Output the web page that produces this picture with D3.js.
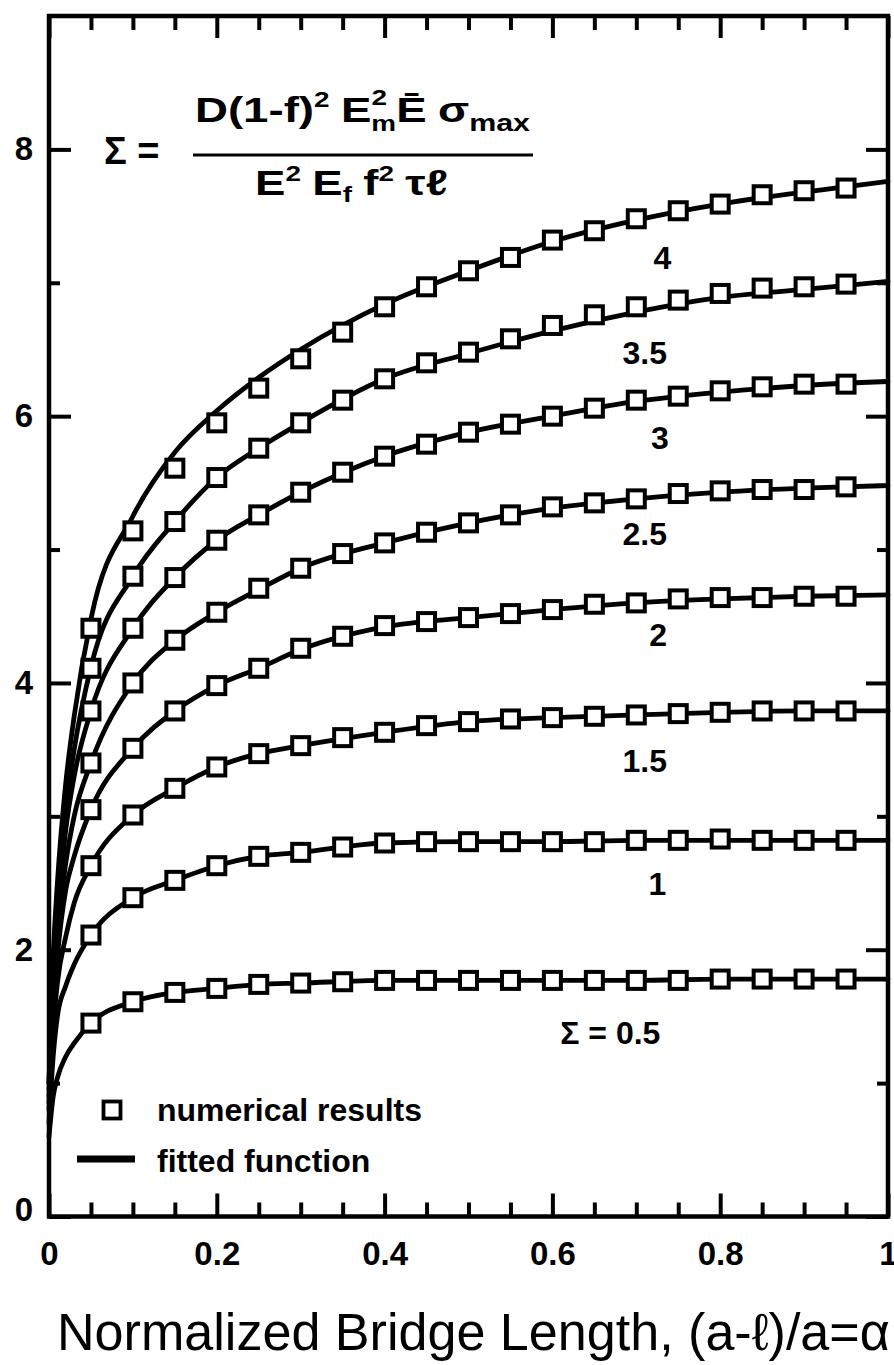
<!DOCTYPE html>
<html><head><meta charset="utf-8">
<script src="https://cdn.jsdelivr.net/npm/d3@7"></script>
<style>html,body{margin:0;padding:0;background:#fff;} svg{display:block;}</style>
</head><body>
<svg id="chart" width="894" height="1365"></svg>
<script>
// ---------------- data ----------------
const sigmaLevels = ["0.5", "1", "1.5", "2", "2.5", "3", "3.5", "4"];
const alphaNumerical = [0.05, 0.10, 0.15, 0.20, 0.25, 0.30, 0.35, 0.40, 0.45, 0.50,
                        0.55, 0.60, 0.65, 0.70, 0.75, 0.80, 0.85, 0.90, 0.95];
const num_0_5 = [1.45, 1.61, 1.68, 1.71, 1.74, 1.75, 1.76, 1.77, 1.77, 1.77, 1.77, 1.77, 1.77, 1.77, 1.77, 1.78, 1.78, 1.78, 1.78];
const num_1   = [2.11, 2.39, 2.52, 2.63, 2.70, 2.73, 2.77, 2.80, 2.81, 2.81, 2.81, 2.81, 2.81, 2.82, 2.82, 2.83, 2.82, 2.82, 2.82];
const num_1_5 = [2.63, 3.01, 3.21, 3.37, 3.47, 3.53, 3.59, 3.63, 3.68, 3.71, 3.73, 3.74, 3.75, 3.76, 3.77, 3.78, 3.79, 3.79, 3.79];
const num_2   = [3.05, 3.51, 3.79, 3.98, 4.11, 4.26, 4.35, 4.43, 4.46, 4.49, 4.52, 4.55, 4.59, 4.60, 4.63, 4.64, 4.64, 4.65, 4.65];
const num_2_5 = [3.40, 4.00, 4.32, 4.53, 4.71, 4.86, 4.97, 5.05, 5.13, 5.20, 5.26, 5.32, 5.35, 5.38, 5.42, 5.44, 5.45, 5.45, 5.47];
const num_3   = [3.79, 4.41, 4.79, 5.07, 5.26, 5.43, 5.58, 5.70, 5.79, 5.88, 5.94, 6.00, 6.06, 6.12, 6.15, 6.19, 6.22, 6.24, 6.24];
const num_3_5 = [4.11, 4.80, 5.21, 5.54, 5.76, 5.95, 6.12, 6.28, 6.40, 6.48, 6.58, 6.68, 6.76, 6.82, 6.87, 6.92, 6.96, 6.97, 6.99];
const num_4   = [4.41, 5.14, 5.61, 5.95, 6.21, 6.43, 6.63, 6.82, 6.97, 7.09, 7.19, 7.32, 7.39, 7.48, 7.54, 7.59, 7.66, 7.69, 7.71];

const fitAlpha = [0, 0.005, 0.01, 0.02, 0.03, 0.05, 0.10, 0.15, 0.20, 0.25, 0.30, 0.40, 0.50, 0.60, 0.70, 0.80, 0.90, 1.00];
const fit_0_5 = [0.60, 0.90, 1.04, 1.20, 1.30, 1.45, 1.61, 1.68, 1.71, 1.74, 1.75, 1.77, 1.77, 1.77, 1.77, 1.78, 1.78, 1.78];
const fit_1   = [0.70, 1.20, 1.50, 1.73, 1.89, 2.11, 2.39, 2.52, 2.63, 2.70, 2.73, 2.80, 2.81, 2.81, 2.82, 2.82, 2.82, 2.82];
const fit_1_5 = [0.80, 1.40, 1.75, 2.10, 2.35, 2.63, 3.01, 3.21, 3.37, 3.47, 3.53, 3.63, 3.71, 3.74, 3.76, 3.78, 3.79, 3.79];
const fit_2   = [0.85, 1.55, 1.95, 2.45, 2.70, 3.05, 3.51, 3.79, 3.98, 4.11, 4.25, 4.42, 4.49, 4.55, 4.60, 4.63, 4.65, 4.66];
const fit_2_5 = [0.90, 1.65, 2.10, 2.65, 3.00, 3.40, 4.00, 4.32, 4.53, 4.70, 4.86, 5.05, 5.20, 5.31, 5.38, 5.43, 5.46, 5.48];
const fit_3   = [0.95, 1.75, 2.25, 2.90, 3.30, 3.79, 4.41, 4.79, 5.07, 5.26, 5.43, 5.70, 5.88, 6.00, 6.11, 6.18, 6.23, 6.26];
const fit_3_5 = [1.00, 1.85, 2.40, 3.05, 3.50, 4.12, 4.80, 5.21, 5.54, 5.76, 5.95, 6.28, 6.47, 6.64, 6.78, 6.89, 6.95, 7.01];
const fit_4   = [1.00, 1.95, 2.50, 3.25, 3.75, 4.48, 5.25, 5.73, 6.04, 6.29, 6.50, 6.84, 7.09, 7.31, 7.47, 7.59, 7.68, 7.76];

const curveLabels     = ["\u03A3 = 0.5", "1", "1.5", "2", "2.5", "3", "3.5", "4"];
const curveLabelAlpha = [0.669, 0.725, 0.710, 0.726, 0.710, 0.728, 0.710, 0.731];
const curveLabelValue = [1.38, 2.50, 3.42, 4.36, 5.12, 5.84, 6.48, 7.19];

const xTickMajor  = [0, 0.2, 0.4, 0.6, 0.8, 1];
const xTickLabels = ["0", "0.2", "0.4", "0.6", "0.8", "1"];
const xTickMinor  = [0.05, 0.10, 0.15, 0.25, 0.30, 0.35, 0.45, 0.50, 0.55, 0.65, 0.70, 0.75, 0.85, 0.90, 0.95];
const yTickMajor  = [0, 2, 4, 6, 8];
const yTickLabels = ["0", "2", "4", "6", "8"];
const yTickMinor  = [1, 3, 5, 7];

const xTitle = "Normalized Bridge Length, (a-\u2113)/a=\u03B1";
const legendLabels = ["numerical results", "fitted function"];

// ---------------- layout ----------------
const FONT = "'Liberation Sans', Arial, Helvetica, sans-serif";
const svg = d3.select("#chart");
const L = 49, R = 888, T = 16, B = 1216.5;
const x = d3.scaleLinear().domain([0, 1]).range([L, R]);
const y = d3.scaleLinear().domain([0, 9]).range([B, T]);

const numSeries = [num_0_5, num_1, num_1_5, num_2, num_2_5, num_3, num_3_5, num_4];
const fitSeries = [fit_0_5, fit_1, fit_1_5, fit_2, fit_2_5, fit_3, fit_3_5, fit_4];

function styleAxis(g, labels) {
  g.select(".domain").remove();
  g.selectAll(".tick line").attr("stroke", "#000").attr("stroke-width", 4);
  g.selectAll(".tick text").attr("font-family", FONT).attr("font-weight", "bold")
    .attr("font-size", 33).attr("fill", "#000");
  if (!labels) g.selectAll(".tick text").remove();
}
const gx = svg.append("g").attr("transform", `translate(0,${B})`)
  .call(d3.axisBottom(x).tickValues(xTickMajor).tickSize(-23).tickPadding(25)
        .tickFormat((d, i) => xTickLabels[i]));
styleAxis(gx, true);
const gxm = svg.append("g").attr("transform", `translate(0,${B})`)
  .call(d3.axisBottom(x).tickValues(xTickMinor).tickSize(-14));
styleAxis(gxm, false);
const gt = svg.append("g").attr("transform", `translate(0,${T})`)
  .call(d3.axisTop(x).tickValues(xTickMajor).tickSize(-22));
styleAxis(gt, false);
const gtm = svg.append("g").attr("transform", `translate(0,${T})`)
  .call(d3.axisTop(x).tickValues(xTickMinor).tickSize(-14));
styleAxis(gtm, false);

const gy = svg.append("g").attr("transform", `translate(${L},0)`)
  .call(d3.axisLeft(y).tickValues(yTickMajor).tickSize(-22).tickPadding(16)
        .tickFormat((d, i) => yTickLabels[i]));
styleAxis(gy, true);
gy.selectAll(".tick").filter(d => d === 0).select("text").attr("dy", "0.12em");
const gym = svg.append("g").attr("transform", `translate(${L},0)`)
  .call(d3.axisLeft(y).tickValues(yTickMinor).tickSize(-11));
styleAxis(gym, false);
const gr = svg.append("g").attr("transform", `translate(${R},0)`)
  .call(d3.axisRight(y).tickValues(yTickMajor).tickSize(-22));
styleAxis(gr, false);
const grm = svg.append("g").attr("transform", `translate(${R},0)`)
  .call(d3.axisRight(y).tickValues(yTickMinor).tickSize(-11));
styleAxis(grm, false);

// frame
svg.append("rect").attr("x", L).attr("y", T).attr("width", R - L).attr("height", B - T)
  .attr("fill", "none").attr("stroke", "#000").attr("stroke-width", 4.5);

// fitted curves
const line = d3.line().x(d => x(d[0])).y(d => y(d[1])).curve(d3.curveMonotoneX);
svg.append("g").selectAll("path").data(fitSeries).join("path")
  .attr("d", s => line(s.map((v, i) => [fitAlpha[i], v])))
  .attr("fill", "none").attr("stroke", "#000").attr("stroke-width", 4.8)
  .attr("stroke-linecap", "round");

// numerical squares
const SQ = 17;
svg.append("g").selectAll("g").data(numSeries).join("g")
  .selectAll("rect").data(s => s.map((v, i) => [alphaNumerical[i], v])).join("rect")
  .attr("x", d => x(d[0]) - SQ / 2).attr("y", d => y(d[1]) - SQ / 2)
  .attr("width", SQ).attr("height", SQ)
  .attr("fill", "#fff").attr("stroke", "#000").attr("stroke-width", 4);

// curve labels
svg.append("g").selectAll("text").data(curveLabels).join("text")
  .attr("x", (d, i) => x(curveLabelAlpha[i])).attr("y", (d, i) => y(curveLabelValue[i]))
  .attr("dy", "0.36em").attr("text-anchor", "middle")
  .attr("font-family", FONT).attr("font-weight", "bold").attr("font-size", 32)
  .text(d => d);

// legend
const lg = svg.append("g");
lg.append("rect").attr("x", 112 - 8.5).attr("y", 1110 - 8.5).attr("width", 17).attr("height", 17)
  .attr("fill", "#fff").attr("stroke", "#000").attr("stroke-width", 3.8);
lg.append("line").attr("x1", 77).attr("x2", 135).attr("y1", 1159).attr("y2", 1159)
  .attr("stroke", "#000").attr("stroke-width", 7);
lg.selectAll("text").data(legendLabels).join("text")
  .attr("x", 157).attr("y", (d, i) => [1121, 1172][i])
  .attr("font-family", FONT).attr("font-weight", "bold").attr("font-size", 32)
  .text(d => d);

// x axis title
const tt = svg.append("text").attr("x", 57).attr("y", 1350)
  .attr("font-family", FONT).attr("font-size", 46).text(xTitle);
const tw = tt.node().getComputedTextLength();
tt.attr("font-size", 46 * 833 / tw);

// formula: one text element per line with tspans, stretched horizontally to the reference extent
const fg = svg.append("g").attr("font-family", FONT).attr("font-weight", "bold").attr("fill", "#000");
function rich(x0, base, parts, target) {
  const t = fg.append("text").attr("x", x0).attr("y", base).attr("font-size", 36);
  let cur = 0;
  const spans = parts.map(p => {
    const off = p.off || 0;
    const s = t.append("tspan").attr("dy", off - cur).attr("font-size", p.size || 36).text(p.t);
    if (p.gap) s.attr("dx", p.gap);
    cur = off;
    return s;
  });
  parts.forEach((p, i) => {
    if (p.back) spans[i].attr("dx", -spans[i - 1].node().getComputedTextLength());
  });
  const W = t.node().getBBox().width;
  const k = target / W;
  t.attr("transform", `translate(${x0},0) scale(${k},1) translate(${-x0},0)`);
  return t;
}
fg.append("text").attr("x", 104).attr("y", 164).attr("font-size", 38).text("\u03A3 =");
rich(195, 122, [
  {t: "D(1-f)"}, {t: "2", size: 22, off: -15},
  {t: "E", gap: 9}, {t: "2", size: 22, off: -17}, {t: "m", size: 22, off: 9, back: true},
  {t: "\u0112"}, {t: "\u03C3", gap: 9}, {t: "max", size: 24, off: 9}
], 336);
fg.append("line").attr("x1", 193).attr("x2", 533).attr("y1", 155).attr("y2", 155)
  .attr("stroke", "#000").attr("stroke-width", 3.2);
rich(255, 195, [
  {t: "E"}, {t: "2", size: 22, off: -14},
  {t: "E", gap: 9}, {t: "f", size: 22, off: 7},
  {t: "f", gap: 9}, {t: "2", size: 22, off: -14},
  {t: "\u03C4\u2113", gap: 9}
], 193);
</script>
</body></html>
